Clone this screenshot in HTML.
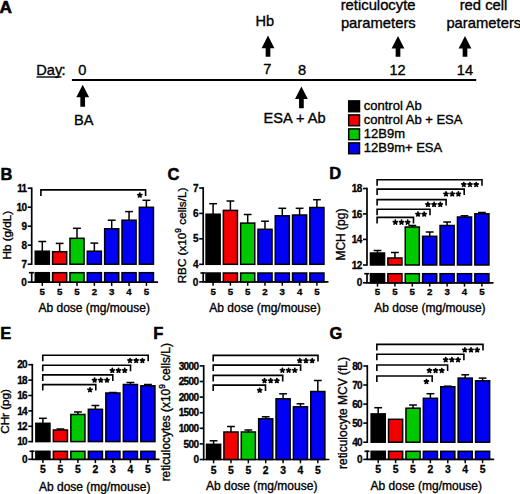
<!DOCTYPE html>
<html><head><meta charset="utf-8"><style>
html,body{margin:0;padding:0;background:#fff;}
body{width:520px;height:494px;overflow:hidden;}
svg{display:block;font-family:"Liberation Sans", sans-serif;}
text{stroke:#000;stroke-width:0.35px;}
text[font-weight="bold"]{stroke-width:0.3px;}
</style></head><body>
<svg width="520" height="494" viewBox="0 0 520 494" font-family='"Liberation Sans", sans-serif' fill="#000">
<rect width="520" height="494" fill="#fff"/>
<text x="-0.5" y="12.5" font-size="17.2" font-weight="bold" text-anchor="start" style="stroke-width:0.6px">A</text>
<text x="36.3" y="74.7" font-size="14.6" font-weight="normal" text-anchor="start">Day</text>
<line x1="36.5" y1="77" x2="61.4" y2="77" stroke="#000" stroke-width="1.4" stroke-linecap="butt"/>
<text x="61.4" y="74.7" font-size="14.6" font-weight="normal" text-anchor="start">:</text>
<text x="82.2" y="74.7" font-size="14.6" font-weight="normal" text-anchor="middle">0</text>
<line x1="71.9" y1="80.1" x2="476.2" y2="80.1" stroke="#000" stroke-width="2" stroke-linecap="butt"/>
<polygon points="82.7,84.7 89.1,97.3 85.05,97.3 85.05,106.7 80.35,106.7 80.35,97.3 76.3,97.3" fill="#000"/>
<text x="83.8" y="124.8" font-size="14.6" font-weight="normal" text-anchor="middle">BA</text>
<text x="264.9" y="25.7" font-size="14.6" font-weight="normal" text-anchor="middle">Hb</text>
<polygon points="268,35.6 274.4,48.2 270.35,48.2 270.35,56.8 265.65,56.8 265.65,48.2 261.6,48.2" fill="#000"/>
<text x="267.2" y="74.4" font-size="14.6" font-weight="normal" text-anchor="middle">7</text>
<text x="302" y="74.5" font-size="14.6" font-weight="normal" text-anchor="middle">8</text>
<text x="397.6" y="74.5" font-size="14.6" font-weight="normal" text-anchor="middle">12</text>
<text x="464.9" y="74.6" font-size="14.6" font-weight="normal" text-anchor="middle">14</text>
<polygon points="301.4,86.4 307.8,99 303.75,99 303.75,108.2 299.05,108.2 299.05,99 295,99" fill="#000"/>
<text x="294.5" y="123" font-size="14.6" font-weight="normal" text-anchor="middle">ESA + Ab</text>
<text x="378.1" y="10.1" font-size="14.8" font-weight="normal" text-anchor="middle">reticulocyte</text>
<text x="378.3" y="27.6" font-size="14.8" font-weight="normal" text-anchor="middle">parameters</text>
<polygon points="398,35.9 404.4,48.5 400.35,48.5 400.35,56.7 395.65,56.7 395.65,48.5 391.6,48.5" fill="#000"/>
<text x="483.5" y="10.1" font-size="14.8" font-weight="normal" text-anchor="middle">red cell</text>
<text x="446.4" y="27.6" font-size="14.8" font-weight="normal" text-anchor="start">parameters</text>
<polygon points="465,36 471.4,48.6 467.35,48.6 467.35,56.7 462.65,56.7 462.65,48.6 458.6,48.6" fill="#000"/>
<rect x="348.7" y="100.9" width="10.8" height="10.8" fill="#000" stroke="#000" stroke-width="1.5"/>
<text x="363.8" y="109.8" font-size="13" font-weight="normal" text-anchor="start">control Ab</text>
<rect x="348.7" y="114.9" width="10.8" height="10.8" fill="#f20000" stroke="#000" stroke-width="1.5"/>
<text x="363.8" y="123.8" font-size="13" font-weight="normal" text-anchor="start">control Ab + ESA</text>
<rect x="348.7" y="128.9" width="10.8" height="10.8" fill="#00c800" stroke="#000" stroke-width="1.5"/>
<text x="363.8" y="137.8" font-size="13" font-weight="normal" text-anchor="start">12B9m</text>
<rect x="348.7" y="142.9" width="10.8" height="10.8" fill="#0000f5" stroke="#000" stroke-width="1.5"/>
<text x="363.8" y="151.8" font-size="13" font-weight="normal" text-anchor="start">12B9m+ ESA</text>
<line x1="31.7" y1="187.4" x2="31.7" y2="265" stroke="#000" stroke-width="1.7" stroke-linecap="butt"/>
<line x1="27.7" y1="188.2" x2="31.7" y2="188.2" stroke="#000" stroke-width="1.6" stroke-linecap="butt"/>
<text x="26.5" y="191.8" font-size="10" font-weight="bold" text-anchor="end" letter-spacing="-0.6">11</text>
<line x1="27.7" y1="207.2" x2="31.7" y2="207.2" stroke="#000" stroke-width="1.6" stroke-linecap="butt"/>
<text x="26.5" y="210.8" font-size="10" font-weight="bold" text-anchor="end" letter-spacing="-0.6">10</text>
<line x1="27.7" y1="226.2" x2="31.7" y2="226.2" stroke="#000" stroke-width="1.6" stroke-linecap="butt"/>
<text x="26.5" y="229.8" font-size="10" font-weight="bold" text-anchor="end" letter-spacing="-0.6">9</text>
<line x1="27.7" y1="245.2" x2="31.7" y2="245.2" stroke="#000" stroke-width="1.6" stroke-linecap="butt"/>
<text x="26.5" y="248.8" font-size="10" font-weight="bold" text-anchor="end" letter-spacing="-0.6">8</text>
<line x1="27.7" y1="264.2" x2="31.7" y2="264.2" stroke="#000" stroke-width="1.6" stroke-linecap="butt"/>
<text x="26.5" y="267.8" font-size="10" font-weight="bold" text-anchor="end" letter-spacing="-0.6">7</text>
<line x1="31.7" y1="271.9" x2="31.7" y2="282.1" stroke="#000" stroke-width="1.7" stroke-linecap="butt"/>
<line x1="28.9" y1="272.7" x2="33.9" y2="272.7" stroke="#000" stroke-width="1.6" stroke-linecap="butt"/>
<line x1="27.7" y1="282.1" x2="31.7" y2="282.1" stroke="#000" stroke-width="1.6" stroke-linecap="butt"/>
<text x="26.9" y="285.7" font-size="10" font-weight="bold" text-anchor="end">0</text>
<line x1="30.9" y1="282.1" x2="158" y2="282.1" stroke="#000" stroke-width="1.7" stroke-linecap="butt"/>
<line x1="42.3" y1="241.5" x2="42.3" y2="251.2" stroke="#000" stroke-width="1.5" stroke-linecap="butt"/>
<line x1="38.4" y1="241.5" x2="46.2" y2="241.5" stroke="#000" stroke-width="1.5" stroke-linecap="butt"/>
<rect x="35.25" y="251.2" width="14.1" height="13" fill="#000" stroke="#000" stroke-width="1.5"/>
<rect x="35.25" y="272.7" width="14.1" height="9.4" fill="#000" stroke="#000" stroke-width="1.5"/>
<line x1="42.3" y1="282.1" x2="42.3" y2="285.9" stroke="#000" stroke-width="1.5" stroke-linecap="butt"/>
<text x="42.3" y="294.7" font-size="9.7" font-weight="bold" text-anchor="middle">5</text>
<line x1="59.65" y1="243.4" x2="59.65" y2="251.7" stroke="#000" stroke-width="1.5" stroke-linecap="butt"/>
<line x1="55.75" y1="243.4" x2="63.55" y2="243.4" stroke="#000" stroke-width="1.5" stroke-linecap="butt"/>
<rect x="52.6" y="251.7" width="14.1" height="12.5" fill="#f20000" stroke="#000" stroke-width="1.5"/>
<rect x="52.6" y="272.7" width="14.1" height="9.4" fill="#f20000" stroke="#000" stroke-width="1.5"/>
<line x1="59.65" y1="282.1" x2="59.65" y2="285.9" stroke="#000" stroke-width="1.5" stroke-linecap="butt"/>
<text x="59.65" y="294.7" font-size="9.7" font-weight="bold" text-anchor="middle">5</text>
<line x1="77" y1="228.3" x2="77" y2="238.3" stroke="#000" stroke-width="1.5" stroke-linecap="butt"/>
<line x1="73.1" y1="228.3" x2="80.9" y2="228.3" stroke="#000" stroke-width="1.5" stroke-linecap="butt"/>
<rect x="69.95" y="238.3" width="14.1" height="25.9" fill="#00c800" stroke="#000" stroke-width="1.5"/>
<rect x="69.95" y="272.7" width="14.1" height="9.4" fill="#00c800" stroke="#000" stroke-width="1.5"/>
<line x1="77" y1="282.1" x2="77" y2="285.9" stroke="#000" stroke-width="1.5" stroke-linecap="butt"/>
<text x="77" y="294.7" font-size="9.7" font-weight="bold" text-anchor="middle">5</text>
<line x1="94.35" y1="243.1" x2="94.35" y2="251.2" stroke="#000" stroke-width="1.5" stroke-linecap="butt"/>
<line x1="90.45" y1="243.1" x2="98.25" y2="243.1" stroke="#000" stroke-width="1.5" stroke-linecap="butt"/>
<rect x="87.3" y="251.2" width="14.1" height="13" fill="#0000f5" stroke="#000" stroke-width="1.5"/>
<rect x="87.3" y="272.7" width="14.1" height="9.4" fill="#0000f5" stroke="#000" stroke-width="1.5"/>
<line x1="94.35" y1="282.1" x2="94.35" y2="285.9" stroke="#000" stroke-width="1.5" stroke-linecap="butt"/>
<text x="94.35" y="294.7" font-size="9.7" font-weight="bold" text-anchor="middle">2</text>
<line x1="111.7" y1="220.2" x2="111.7" y2="228.8" stroke="#000" stroke-width="1.5" stroke-linecap="butt"/>
<line x1="107.8" y1="220.2" x2="115.6" y2="220.2" stroke="#000" stroke-width="1.5" stroke-linecap="butt"/>
<rect x="104.65" y="228.8" width="14.1" height="35.4" fill="#0000f5" stroke="#000" stroke-width="1.5"/>
<rect x="104.65" y="272.7" width="14.1" height="9.4" fill="#0000f5" stroke="#000" stroke-width="1.5"/>
<line x1="111.7" y1="282.1" x2="111.7" y2="285.9" stroke="#000" stroke-width="1.5" stroke-linecap="butt"/>
<text x="111.7" y="294.7" font-size="9.7" font-weight="bold" text-anchor="middle">3</text>
<line x1="129.05" y1="211.6" x2="129.05" y2="220.2" stroke="#000" stroke-width="1.5" stroke-linecap="butt"/>
<line x1="125.15" y1="211.6" x2="132.95" y2="211.6" stroke="#000" stroke-width="1.5" stroke-linecap="butt"/>
<rect x="122" y="220.2" width="14.1" height="44" fill="#0000f5" stroke="#000" stroke-width="1.5"/>
<rect x="122" y="272.7" width="14.1" height="9.4" fill="#0000f5" stroke="#000" stroke-width="1.5"/>
<line x1="129.05" y1="282.1" x2="129.05" y2="285.9" stroke="#000" stroke-width="1.5" stroke-linecap="butt"/>
<text x="129.05" y="294.7" font-size="9.7" font-weight="bold" text-anchor="middle">4</text>
<line x1="146.4" y1="200.3" x2="146.4" y2="207.3" stroke="#000" stroke-width="1.5" stroke-linecap="butt"/>
<line x1="142.5" y1="200.3" x2="150.3" y2="200.3" stroke="#000" stroke-width="1.5" stroke-linecap="butt"/>
<rect x="139.35" y="207.3" width="14.1" height="56.9" fill="#0000f5" stroke="#000" stroke-width="1.5"/>
<rect x="139.35" y="272.7" width="14.1" height="9.4" fill="#0000f5" stroke="#000" stroke-width="1.5"/>
<line x1="146.4" y1="282.1" x2="146.4" y2="285.9" stroke="#000" stroke-width="1.5" stroke-linecap="butt"/>
<text x="146.4" y="294.7" font-size="9.7" font-weight="bold" text-anchor="middle">5</text>
<text x="94.2" y="311.5" font-size="12" font-weight="normal" text-anchor="middle">Ab dose (mg/mouse)</text>
<text transform="translate(11.2,235.2) rotate(-90)" font-size="11.7" text-anchor="middle">Hb (g/dL)</text>
<text x="0.5" y="179.5" font-size="16.5" font-weight="bold" text-anchor="start" style="stroke-width:0.5px">B</text>
<path d="M40.9 195.9V189.9H145.6V195.9" fill="none" stroke="#000" stroke-width="1.6"/>
<path d="M139.8 195.2L139.8 193.1M139.8 195.2L141.8 194.55M139.8 195.2L141.03 196.9M139.8 195.2L138.57 196.9M139.8 195.2L137.8 194.55" stroke="#000" stroke-width="1.75" stroke-linecap="round" fill="none"/>
<line x1="203.2" y1="187.2" x2="203.2" y2="265.1" stroke="#000" stroke-width="1.7" stroke-linecap="butt"/>
<line x1="199.2" y1="188" x2="203.2" y2="188" stroke="#000" stroke-width="1.6" stroke-linecap="butt"/>
<text x="198" y="191.6" font-size="10" font-weight="bold" text-anchor="end" letter-spacing="-0.6">7</text>
<line x1="199.2" y1="213.4" x2="203.2" y2="213.4" stroke="#000" stroke-width="1.6" stroke-linecap="butt"/>
<text x="198" y="217" font-size="10" font-weight="bold" text-anchor="end" letter-spacing="-0.6">6</text>
<line x1="199.2" y1="238.8" x2="203.2" y2="238.8" stroke="#000" stroke-width="1.6" stroke-linecap="butt"/>
<text x="198" y="242.4" font-size="10" font-weight="bold" text-anchor="end" letter-spacing="-0.6">5</text>
<line x1="199.2" y1="264.3" x2="203.2" y2="264.3" stroke="#000" stroke-width="1.6" stroke-linecap="butt"/>
<text x="198" y="267.9" font-size="10" font-weight="bold" text-anchor="end" letter-spacing="-0.6">4</text>
<line x1="203.2" y1="272.2" x2="203.2" y2="281.9" stroke="#000" stroke-width="1.7" stroke-linecap="butt"/>
<line x1="200.4" y1="273" x2="205.4" y2="273" stroke="#000" stroke-width="1.6" stroke-linecap="butt"/>
<line x1="199.2" y1="281.9" x2="203.2" y2="281.9" stroke="#000" stroke-width="1.6" stroke-linecap="butt"/>
<text x="198.4" y="285.5" font-size="10" font-weight="bold" text-anchor="end">0</text>
<line x1="202.4" y1="281.9" x2="328.5" y2="281.9" stroke="#000" stroke-width="1.7" stroke-linecap="butt"/>
<line x1="213.1" y1="203.7" x2="213.1" y2="214.2" stroke="#000" stroke-width="1.5" stroke-linecap="butt"/>
<line x1="209.2" y1="203.7" x2="217" y2="203.7" stroke="#000" stroke-width="1.5" stroke-linecap="butt"/>
<rect x="206.05" y="214.2" width="14.1" height="50.1" fill="#000" stroke="#000" stroke-width="1.5"/>
<rect x="206.05" y="273" width="14.1" height="8.9" fill="#000" stroke="#000" stroke-width="1.5"/>
<line x1="213.1" y1="281.9" x2="213.1" y2="285.7" stroke="#000" stroke-width="1.5" stroke-linecap="butt"/>
<text x="213.1" y="294.5" font-size="9.7" font-weight="bold" text-anchor="middle">5</text>
<line x1="230.4" y1="201" x2="230.4" y2="210.4" stroke="#000" stroke-width="1.5" stroke-linecap="butt"/>
<line x1="226.5" y1="201" x2="234.3" y2="201" stroke="#000" stroke-width="1.5" stroke-linecap="butt"/>
<rect x="223.35" y="210.4" width="14.1" height="53.9" fill="#f20000" stroke="#000" stroke-width="1.5"/>
<rect x="223.35" y="273" width="14.1" height="8.9" fill="#f20000" stroke="#000" stroke-width="1.5"/>
<line x1="230.4" y1="281.9" x2="230.4" y2="285.7" stroke="#000" stroke-width="1.5" stroke-linecap="butt"/>
<text x="230.4" y="294.5" font-size="9.7" font-weight="bold" text-anchor="middle">5</text>
<line x1="247.7" y1="214.5" x2="247.7" y2="223.1" stroke="#000" stroke-width="1.5" stroke-linecap="butt"/>
<line x1="243.8" y1="214.5" x2="251.6" y2="214.5" stroke="#000" stroke-width="1.5" stroke-linecap="butt"/>
<rect x="240.65" y="223.1" width="14.1" height="41.2" fill="#00c800" stroke="#000" stroke-width="1.5"/>
<rect x="240.65" y="273" width="14.1" height="8.9" fill="#00c800" stroke="#000" stroke-width="1.5"/>
<line x1="247.7" y1="281.9" x2="247.7" y2="285.7" stroke="#000" stroke-width="1.5" stroke-linecap="butt"/>
<text x="247.7" y="294.5" font-size="9.7" font-weight="bold" text-anchor="middle">5</text>
<line x1="265" y1="221.2" x2="265" y2="229.3" stroke="#000" stroke-width="1.5" stroke-linecap="butt"/>
<line x1="261.1" y1="221.2" x2="268.9" y2="221.2" stroke="#000" stroke-width="1.5" stroke-linecap="butt"/>
<rect x="257.95" y="229.3" width="14.1" height="35" fill="#0000f5" stroke="#000" stroke-width="1.5"/>
<rect x="257.95" y="273" width="14.1" height="8.9" fill="#0000f5" stroke="#000" stroke-width="1.5"/>
<line x1="265" y1="281.9" x2="265" y2="285.7" stroke="#000" stroke-width="1.5" stroke-linecap="butt"/>
<text x="265" y="294.5" font-size="9.7" font-weight="bold" text-anchor="middle">2</text>
<line x1="282.3" y1="208.3" x2="282.3" y2="215.8" stroke="#000" stroke-width="1.5" stroke-linecap="butt"/>
<line x1="278.4" y1="208.3" x2="286.2" y2="208.3" stroke="#000" stroke-width="1.5" stroke-linecap="butt"/>
<rect x="275.25" y="215.8" width="14.1" height="48.5" fill="#0000f5" stroke="#000" stroke-width="1.5"/>
<rect x="275.25" y="273" width="14.1" height="8.9" fill="#0000f5" stroke="#000" stroke-width="1.5"/>
<line x1="282.3" y1="281.9" x2="282.3" y2="285.7" stroke="#000" stroke-width="1.5" stroke-linecap="butt"/>
<text x="282.3" y="294.5" font-size="9.7" font-weight="bold" text-anchor="middle">3</text>
<line x1="299.6" y1="208.3" x2="299.6" y2="215" stroke="#000" stroke-width="1.5" stroke-linecap="butt"/>
<line x1="295.7" y1="208.3" x2="303.5" y2="208.3" stroke="#000" stroke-width="1.5" stroke-linecap="butt"/>
<rect x="292.55" y="215" width="14.1" height="49.3" fill="#0000f5" stroke="#000" stroke-width="1.5"/>
<rect x="292.55" y="273" width="14.1" height="8.9" fill="#0000f5" stroke="#000" stroke-width="1.5"/>
<line x1="299.6" y1="281.9" x2="299.6" y2="285.7" stroke="#000" stroke-width="1.5" stroke-linecap="butt"/>
<text x="299.6" y="294.5" font-size="9.7" font-weight="bold" text-anchor="middle">4</text>
<line x1="316.9" y1="199.7" x2="316.9" y2="207.5" stroke="#000" stroke-width="1.5" stroke-linecap="butt"/>
<line x1="313" y1="199.7" x2="320.8" y2="199.7" stroke="#000" stroke-width="1.5" stroke-linecap="butt"/>
<rect x="309.85" y="207.5" width="14.1" height="56.8" fill="#0000f5" stroke="#000" stroke-width="1.5"/>
<rect x="309.85" y="273" width="14.1" height="8.9" fill="#0000f5" stroke="#000" stroke-width="1.5"/>
<line x1="316.9" y1="281.9" x2="316.9" y2="285.7" stroke="#000" stroke-width="1.5" stroke-linecap="butt"/>
<text x="316.9" y="294.5" font-size="9.7" font-weight="bold" text-anchor="middle">5</text>
<text x="265" y="311.7" font-size="12" font-weight="normal" text-anchor="middle">Ab dose (mg/mouse)</text>
<text transform="translate(185.9,235.5) rotate(-90)" font-size="11.7" text-anchor="middle">RBC (x10<tspan baseline-shift="4.6" font-size="8.6">9</tspan> cells/L)</text>
<text x="167.5" y="180" font-size="16.5" font-weight="bold" text-anchor="start" style="stroke-width:0.5px">C</text>
<line x1="367" y1="187.7" x2="367" y2="265.8" stroke="#000" stroke-width="1.7" stroke-linecap="butt"/>
<line x1="363" y1="188.5" x2="367" y2="188.5" stroke="#000" stroke-width="1.6" stroke-linecap="butt"/>
<text x="361.8" y="192.1" font-size="10" font-weight="bold" text-anchor="end" letter-spacing="-0.6">18</text>
<line x1="363" y1="213.9" x2="367" y2="213.9" stroke="#000" stroke-width="1.6" stroke-linecap="butt"/>
<text x="361.8" y="217.5" font-size="10" font-weight="bold" text-anchor="end" letter-spacing="-0.6">16</text>
<line x1="363" y1="239.4" x2="367" y2="239.4" stroke="#000" stroke-width="1.6" stroke-linecap="butt"/>
<text x="361.8" y="243" font-size="10" font-weight="bold" text-anchor="end" letter-spacing="-0.6">14</text>
<line x1="363" y1="265" x2="367" y2="265" stroke="#000" stroke-width="1.6" stroke-linecap="butt"/>
<text x="361.8" y="268.6" font-size="10" font-weight="bold" text-anchor="end" letter-spacing="-0.6">12</text>
<line x1="367" y1="272.9" x2="367" y2="282.8" stroke="#000" stroke-width="1.7" stroke-linecap="butt"/>
<line x1="364.2" y1="273.7" x2="369.2" y2="273.7" stroke="#000" stroke-width="1.6" stroke-linecap="butt"/>
<line x1="363" y1="282.8" x2="367" y2="282.8" stroke="#000" stroke-width="1.6" stroke-linecap="butt"/>
<text x="362.2" y="286.4" font-size="10" font-weight="bold" text-anchor="end">0</text>
<line x1="366.2" y1="282.8" x2="493.5" y2="282.8" stroke="#000" stroke-width="1.7" stroke-linecap="butt"/>
<line x1="377.5" y1="250.5" x2="377.5" y2="253" stroke="#000" stroke-width="1.5" stroke-linecap="butt"/>
<line x1="373.6" y1="250.5" x2="381.4" y2="250.5" stroke="#000" stroke-width="1.5" stroke-linecap="butt"/>
<rect x="370.45" y="253" width="14.1" height="12" fill="#000" stroke="#000" stroke-width="1.5"/>
<rect x="370.45" y="273.7" width="14.1" height="9.1" fill="#000" stroke="#000" stroke-width="1.5"/>
<line x1="377.5" y1="282.8" x2="377.5" y2="286.6" stroke="#000" stroke-width="1.5" stroke-linecap="butt"/>
<text x="377.5" y="295.4" font-size="9.7" font-weight="bold" text-anchor="middle">5</text>
<line x1="394.9" y1="252.5" x2="394.9" y2="258" stroke="#000" stroke-width="1.5" stroke-linecap="butt"/>
<line x1="391" y1="252.5" x2="398.8" y2="252.5" stroke="#000" stroke-width="1.5" stroke-linecap="butt"/>
<rect x="387.85" y="258" width="14.1" height="7" fill="#f20000" stroke="#000" stroke-width="1.5"/>
<rect x="387.85" y="273.7" width="14.1" height="9.1" fill="#f20000" stroke="#000" stroke-width="1.5"/>
<line x1="394.9" y1="282.8" x2="394.9" y2="286.6" stroke="#000" stroke-width="1.5" stroke-linecap="butt"/>
<text x="394.9" y="295.4" font-size="9.7" font-weight="bold" text-anchor="middle">5</text>
<line x1="412.3" y1="225.5" x2="412.3" y2="227" stroke="#000" stroke-width="1.5" stroke-linecap="butt"/>
<line x1="408.4" y1="225.5" x2="416.2" y2="225.5" stroke="#000" stroke-width="1.5" stroke-linecap="butt"/>
<rect x="405.25" y="227" width="14.1" height="38" fill="#00c800" stroke="#000" stroke-width="1.5"/>
<rect x="405.25" y="273.7" width="14.1" height="9.1" fill="#00c800" stroke="#000" stroke-width="1.5"/>
<line x1="412.3" y1="282.8" x2="412.3" y2="286.6" stroke="#000" stroke-width="1.5" stroke-linecap="butt"/>
<text x="412.3" y="295.4" font-size="9.7" font-weight="bold" text-anchor="middle">5</text>
<line x1="429.7" y1="232" x2="429.7" y2="236.3" stroke="#000" stroke-width="1.5" stroke-linecap="butt"/>
<line x1="425.8" y1="232" x2="433.6" y2="232" stroke="#000" stroke-width="1.5" stroke-linecap="butt"/>
<rect x="422.65" y="236.3" width="14.1" height="28.7" fill="#0000f5" stroke="#000" stroke-width="1.5"/>
<rect x="422.65" y="273.7" width="14.1" height="9.1" fill="#0000f5" stroke="#000" stroke-width="1.5"/>
<line x1="429.7" y1="282.8" x2="429.7" y2="286.6" stroke="#000" stroke-width="1.5" stroke-linecap="butt"/>
<text x="429.7" y="295.4" font-size="9.7" font-weight="bold" text-anchor="middle">2</text>
<line x1="447.1" y1="222" x2="447.1" y2="225.5" stroke="#000" stroke-width="1.5" stroke-linecap="butt"/>
<line x1="443.2" y1="222" x2="451" y2="222" stroke="#000" stroke-width="1.5" stroke-linecap="butt"/>
<rect x="440.05" y="225.5" width="14.1" height="39.5" fill="#0000f5" stroke="#000" stroke-width="1.5"/>
<rect x="440.05" y="273.7" width="14.1" height="9.1" fill="#0000f5" stroke="#000" stroke-width="1.5"/>
<line x1="447.1" y1="282.8" x2="447.1" y2="286.6" stroke="#000" stroke-width="1.5" stroke-linecap="butt"/>
<text x="447.1" y="295.4" font-size="9.7" font-weight="bold" text-anchor="middle">3</text>
<line x1="464.5" y1="215.8" x2="464.5" y2="217" stroke="#000" stroke-width="1.5" stroke-linecap="butt"/>
<line x1="460.6" y1="215.8" x2="468.4" y2="215.8" stroke="#000" stroke-width="1.5" stroke-linecap="butt"/>
<rect x="457.45" y="217" width="14.1" height="48" fill="#0000f5" stroke="#000" stroke-width="1.5"/>
<rect x="457.45" y="273.7" width="14.1" height="9.1" fill="#0000f5" stroke="#000" stroke-width="1.5"/>
<line x1="464.5" y1="282.8" x2="464.5" y2="286.6" stroke="#000" stroke-width="1.5" stroke-linecap="butt"/>
<text x="464.5" y="295.4" font-size="9.7" font-weight="bold" text-anchor="middle">4</text>
<line x1="481.9" y1="212.5" x2="481.9" y2="213.8" stroke="#000" stroke-width="1.5" stroke-linecap="butt"/>
<line x1="478" y1="212.5" x2="485.8" y2="212.5" stroke="#000" stroke-width="1.5" stroke-linecap="butt"/>
<rect x="474.85" y="213.8" width="14.1" height="51.2" fill="#0000f5" stroke="#000" stroke-width="1.5"/>
<rect x="474.85" y="273.7" width="14.1" height="9.1" fill="#0000f5" stroke="#000" stroke-width="1.5"/>
<line x1="481.9" y1="282.8" x2="481.9" y2="286.6" stroke="#000" stroke-width="1.5" stroke-linecap="butt"/>
<text x="481.9" y="295.4" font-size="9.7" font-weight="bold" text-anchor="middle">5</text>
<text x="429.9" y="312.1" font-size="12" font-weight="normal" text-anchor="middle">Ab dose (mg/mouse)</text>
<text transform="translate(345.3,234.6) rotate(-90)" font-size="12" text-anchor="middle">MCH (pg)</text>
<text x="329.3" y="179.4" font-size="16.5" font-weight="bold" text-anchor="start" style="stroke-width:0.5px">D</text>
<path d="M377.1 185.7V179.7H482V185.7" fill="none" stroke="#000" stroke-width="1.6"/>
<path d="M463.8 184.6L463.8 182.5M463.8 184.6L465.8 183.95M463.8 184.6L465.03 186.3M463.8 184.6L462.57 186.3M463.8 184.6L461.8 183.95" stroke="#000" stroke-width="1.75" stroke-linecap="round" fill="none"/>
<path d="M470 184.6L470 182.5M470 184.6L472 183.95M470 184.6L471.23 186.3M470 184.6L468.77 186.3M470 184.6L468 183.95" stroke="#000" stroke-width="1.75" stroke-linecap="round" fill="none"/>
<path d="M476.2 184.6L476.2 182.5M476.2 184.6L478.2 183.95M476.2 184.6L477.43 186.3M476.2 184.6L474.97 186.3M476.2 184.6L474.2 183.95" stroke="#000" stroke-width="1.75" stroke-linecap="round" fill="none"/>
<path d="M377.1 195.1V189.1H464.2V195.1" fill="none" stroke="#000" stroke-width="1.6"/>
<path d="M446 194L446 191.9M446 194L448 193.35M446 194L447.23 195.7M446 194L444.77 195.7M446 194L444 193.35" stroke="#000" stroke-width="1.75" stroke-linecap="round" fill="none"/>
<path d="M452.2 194L452.2 191.9M452.2 194L454.2 193.35M452.2 194L453.43 195.7M452.2 194L450.97 195.7M452.2 194L450.2 193.35" stroke="#000" stroke-width="1.75" stroke-linecap="round" fill="none"/>
<path d="M458.4 194L458.4 191.9M458.4 194L460.4 193.35M458.4 194L459.63 195.7M458.4 194L457.17 195.7M458.4 194L456.4 193.35" stroke="#000" stroke-width="1.75" stroke-linecap="round" fill="none"/>
<path d="M377.1 205.6V199.6H446.1V205.6" fill="none" stroke="#000" stroke-width="1.6"/>
<path d="M427.9 204.5L427.9 202.4M427.9 204.5L429.9 203.85M427.9 204.5L429.13 206.2M427.9 204.5L426.67 206.2M427.9 204.5L425.9 203.85" stroke="#000" stroke-width="1.75" stroke-linecap="round" fill="none"/>
<path d="M434.1 204.5L434.1 202.4M434.1 204.5L436.1 203.85M434.1 204.5L435.33 206.2M434.1 204.5L432.87 206.2M434.1 204.5L432.1 203.85" stroke="#000" stroke-width="1.75" stroke-linecap="round" fill="none"/>
<path d="M440.3 204.5L440.3 202.4M440.3 204.5L442.3 203.85M440.3 204.5L441.53 206.2M440.3 204.5L439.07 206.2M440.3 204.5L438.3 203.85" stroke="#000" stroke-width="1.75" stroke-linecap="round" fill="none"/>
<path d="M377.1 215.3V209.3H430V215.3" fill="none" stroke="#000" stroke-width="1.6"/>
<path d="M418 214.2L418 212.1M418 214.2L420 213.55M418 214.2L419.23 215.9M418 214.2L416.77 215.9M418 214.2L416 213.55" stroke="#000" stroke-width="1.75" stroke-linecap="round" fill="none"/>
<path d="M424.2 214.2L424.2 212.1M424.2 214.2L426.2 213.55M424.2 214.2L425.43 215.9M424.2 214.2L422.97 215.9M424.2 214.2L422.2 213.55" stroke="#000" stroke-width="1.75" stroke-linecap="round" fill="none"/>
<path d="M377.1 223.4V217.4H413.5V223.4" fill="none" stroke="#000" stroke-width="1.6"/>
<path d="M395.3 222.3L395.3 220.2M395.3 222.3L397.3 221.65M395.3 222.3L396.53 224M395.3 222.3L394.07 224M395.3 222.3L393.3 221.65" stroke="#000" stroke-width="1.75" stroke-linecap="round" fill="none"/>
<path d="M401.5 222.3L401.5 220.2M401.5 222.3L403.5 221.65M401.5 222.3L402.73 224M401.5 222.3L400.27 224M401.5 222.3L399.5 221.65" stroke="#000" stroke-width="1.75" stroke-linecap="round" fill="none"/>
<path d="M407.7 222.3L407.7 220.2M407.7 222.3L409.7 221.65M407.7 222.3L408.93 224M407.7 222.3L406.47 224M407.7 222.3L405.7 221.65" stroke="#000" stroke-width="1.75" stroke-linecap="round" fill="none"/>
<line x1="32.3" y1="363.9" x2="32.3" y2="442.4" stroke="#000" stroke-width="1.7" stroke-linecap="butt"/>
<line x1="28.3" y1="364.7" x2="32.3" y2="364.7" stroke="#000" stroke-width="1.6" stroke-linecap="butt"/>
<text x="27.1" y="368.3" font-size="10" font-weight="bold" text-anchor="end" letter-spacing="-0.6">20</text>
<line x1="28.3" y1="380.1" x2="32.3" y2="380.1" stroke="#000" stroke-width="1.6" stroke-linecap="butt"/>
<text x="27.1" y="383.7" font-size="10" font-weight="bold" text-anchor="end" letter-spacing="-0.6">18</text>
<line x1="28.3" y1="395.5" x2="32.3" y2="395.5" stroke="#000" stroke-width="1.6" stroke-linecap="butt"/>
<text x="27.1" y="399.1" font-size="10" font-weight="bold" text-anchor="end" letter-spacing="-0.6">16</text>
<line x1="28.3" y1="410.9" x2="32.3" y2="410.9" stroke="#000" stroke-width="1.6" stroke-linecap="butt"/>
<text x="27.1" y="414.5" font-size="10" font-weight="bold" text-anchor="end" letter-spacing="-0.6">14</text>
<line x1="28.3" y1="426.3" x2="32.3" y2="426.3" stroke="#000" stroke-width="1.6" stroke-linecap="butt"/>
<text x="27.1" y="429.9" font-size="10" font-weight="bold" text-anchor="end" letter-spacing="-0.6">12</text>
<line x1="28.3" y1="441.6" x2="32.3" y2="441.6" stroke="#000" stroke-width="1.6" stroke-linecap="butt"/>
<text x="27.1" y="445.2" font-size="10" font-weight="bold" text-anchor="end" letter-spacing="-0.6">10</text>
<line x1="32.3" y1="450.5" x2="32.3" y2="459.3" stroke="#000" stroke-width="1.7" stroke-linecap="butt"/>
<line x1="29.5" y1="451.3" x2="34.5" y2="451.3" stroke="#000" stroke-width="1.6" stroke-linecap="butt"/>
<line x1="28.3" y1="459.3" x2="32.3" y2="459.3" stroke="#000" stroke-width="1.6" stroke-linecap="butt"/>
<text x="27.5" y="462.9" font-size="10" font-weight="bold" text-anchor="end">0</text>
<line x1="31.5" y1="459.3" x2="159.5" y2="459.3" stroke="#000" stroke-width="1.7" stroke-linecap="butt"/>
<line x1="42.9" y1="418.3" x2="42.9" y2="423.3" stroke="#000" stroke-width="1.5" stroke-linecap="butt"/>
<line x1="39" y1="418.3" x2="46.8" y2="418.3" stroke="#000" stroke-width="1.5" stroke-linecap="butt"/>
<rect x="35.85" y="423.3" width="14.1" height="18.3" fill="#000" stroke="#000" stroke-width="1.5"/>
<rect x="35.85" y="451.3" width="14.1" height="8" fill="#000" stroke="#000" stroke-width="1.5"/>
<line x1="42.9" y1="459.3" x2="42.9" y2="463.1" stroke="#000" stroke-width="1.5" stroke-linecap="butt"/>
<text x="42.9" y="473.3" font-size="10.4" font-weight="bold" text-anchor="middle">5</text>
<line x1="60.4" y1="429" x2="60.4" y2="430" stroke="#000" stroke-width="1.5" stroke-linecap="butt"/>
<line x1="56.5" y1="429" x2="64.3" y2="429" stroke="#000" stroke-width="1.5" stroke-linecap="butt"/>
<rect x="53.35" y="430" width="14.1" height="11.6" fill="#f20000" stroke="#000" stroke-width="1.5"/>
<rect x="53.35" y="451.3" width="14.1" height="8" fill="#f20000" stroke="#000" stroke-width="1.5"/>
<line x1="60.4" y1="459.3" x2="60.4" y2="463.1" stroke="#000" stroke-width="1.5" stroke-linecap="butt"/>
<text x="60.4" y="473.3" font-size="10.4" font-weight="bold" text-anchor="middle">5</text>
<line x1="77.9" y1="412" x2="77.9" y2="414.5" stroke="#000" stroke-width="1.5" stroke-linecap="butt"/>
<line x1="74" y1="412" x2="81.8" y2="412" stroke="#000" stroke-width="1.5" stroke-linecap="butt"/>
<rect x="70.85" y="414.5" width="14.1" height="27.1" fill="#00c800" stroke="#000" stroke-width="1.5"/>
<rect x="70.85" y="451.3" width="14.1" height="8" fill="#00c800" stroke="#000" stroke-width="1.5"/>
<line x1="77.9" y1="459.3" x2="77.9" y2="463.1" stroke="#000" stroke-width="1.5" stroke-linecap="butt"/>
<text x="77.9" y="473.3" font-size="10.4" font-weight="bold" text-anchor="middle">5</text>
<line x1="95.4" y1="405.5" x2="95.4" y2="409.3" stroke="#000" stroke-width="1.5" stroke-linecap="butt"/>
<line x1="91.5" y1="405.5" x2="99.3" y2="405.5" stroke="#000" stroke-width="1.5" stroke-linecap="butt"/>
<rect x="88.35" y="409.3" width="14.1" height="32.3" fill="#0000f5" stroke="#000" stroke-width="1.5"/>
<rect x="88.35" y="451.3" width="14.1" height="8" fill="#0000f5" stroke="#000" stroke-width="1.5"/>
<line x1="95.4" y1="459.3" x2="95.4" y2="463.1" stroke="#000" stroke-width="1.5" stroke-linecap="butt"/>
<text x="95.4" y="473.3" font-size="10.4" font-weight="bold" text-anchor="middle">2</text>
<line x1="112.9" y1="392.5" x2="112.9" y2="393" stroke="#000" stroke-width="1.5" stroke-linecap="butt"/>
<line x1="109" y1="392.5" x2="116.8" y2="392.5" stroke="#000" stroke-width="1.5" stroke-linecap="butt"/>
<rect x="105.85" y="393" width="14.1" height="48.6" fill="#0000f5" stroke="#000" stroke-width="1.5"/>
<rect x="105.85" y="451.3" width="14.1" height="8" fill="#0000f5" stroke="#000" stroke-width="1.5"/>
<line x1="112.9" y1="459.3" x2="112.9" y2="463.1" stroke="#000" stroke-width="1.5" stroke-linecap="butt"/>
<text x="112.9" y="473.3" font-size="10.4" font-weight="bold" text-anchor="middle">3</text>
<line x1="130.4" y1="382.5" x2="130.4" y2="384.5" stroke="#000" stroke-width="1.5" stroke-linecap="butt"/>
<line x1="126.5" y1="382.5" x2="134.3" y2="382.5" stroke="#000" stroke-width="1.5" stroke-linecap="butt"/>
<rect x="123.35" y="384.5" width="14.1" height="57.1" fill="#0000f5" stroke="#000" stroke-width="1.5"/>
<rect x="123.35" y="451.3" width="14.1" height="8" fill="#0000f5" stroke="#000" stroke-width="1.5"/>
<line x1="130.4" y1="459.3" x2="130.4" y2="463.1" stroke="#000" stroke-width="1.5" stroke-linecap="butt"/>
<text x="130.4" y="473.3" font-size="10.4" font-weight="bold" text-anchor="middle">4</text>
<line x1="147.9" y1="384.5" x2="147.9" y2="385.8" stroke="#000" stroke-width="1.5" stroke-linecap="butt"/>
<line x1="144" y1="384.5" x2="151.8" y2="384.5" stroke="#000" stroke-width="1.5" stroke-linecap="butt"/>
<rect x="140.85" y="385.8" width="14.1" height="55.8" fill="#0000f5" stroke="#000" stroke-width="1.5"/>
<rect x="140.85" y="451.3" width="14.1" height="8" fill="#0000f5" stroke="#000" stroke-width="1.5"/>
<line x1="147.9" y1="459.3" x2="147.9" y2="463.1" stroke="#000" stroke-width="1.5" stroke-linecap="butt"/>
<text x="147.9" y="473.3" font-size="10.4" font-weight="bold" text-anchor="middle">5</text>
<text x="94.7" y="490.6" font-size="12" font-weight="normal" text-anchor="middle">Ab dose (mg/mouse)</text>
<text transform="translate(9.3,411.4) rotate(-90)" font-size="11.7" text-anchor="middle">CHr (pg)</text>
<text x="0.3" y="339.2" font-size="16.5" font-weight="bold" text-anchor="start" style="stroke-width:0.5px">E</text>
<path d="M42.75 361.3V355.3H148.2V361.3" fill="none" stroke="#000" stroke-width="1.6"/>
<path d="M130 360.6L130 358.5M130 360.6L132 359.95M130 360.6L131.23 362.3M130 360.6L128.77 362.3M130 360.6L128 359.95" stroke="#000" stroke-width="1.75" stroke-linecap="round" fill="none"/>
<path d="M136.2 360.6L136.2 358.5M136.2 360.6L138.2 359.95M136.2 360.6L137.43 362.3M136.2 360.6L134.97 362.3M136.2 360.6L134.2 359.95" stroke="#000" stroke-width="1.75" stroke-linecap="round" fill="none"/>
<path d="M142.4 360.6L142.4 358.5M142.4 360.6L144.4 359.95M142.4 360.6L143.63 362.3M142.4 360.6L141.17 362.3M142.4 360.6L140.4 359.95" stroke="#000" stroke-width="1.75" stroke-linecap="round" fill="none"/>
<path d="M42.75 371.2V365.2H130.5V371.2" fill="none" stroke="#000" stroke-width="1.6"/>
<path d="M112.3 370.5L112.3 368.4M112.3 370.5L114.3 369.85M112.3 370.5L113.53 372.2M112.3 370.5L111.07 372.2M112.3 370.5L110.3 369.85" stroke="#000" stroke-width="1.75" stroke-linecap="round" fill="none"/>
<path d="M118.5 370.5L118.5 368.4M118.5 370.5L120.5 369.85M118.5 370.5L119.73 372.2M118.5 370.5L117.27 372.2M118.5 370.5L116.5 369.85" stroke="#000" stroke-width="1.75" stroke-linecap="round" fill="none"/>
<path d="M124.7 370.5L124.7 368.4M124.7 370.5L126.7 369.85M124.7 370.5L125.93 372.2M124.7 370.5L123.47 372.2M124.7 370.5L122.7 369.85" stroke="#000" stroke-width="1.75" stroke-linecap="round" fill="none"/>
<path d="M42.75 380.9V374.9H112.8V380.9" fill="none" stroke="#000" stroke-width="1.6"/>
<path d="M94.6 380.2L94.6 378.1M94.6 380.2L96.6 379.55M94.6 380.2L95.83 381.9M94.6 380.2L93.37 381.9M94.6 380.2L92.6 379.55" stroke="#000" stroke-width="1.75" stroke-linecap="round" fill="none"/>
<path d="M100.8 380.2L100.8 378.1M100.8 380.2L102.8 379.55M100.8 380.2L102.03 381.9M100.8 380.2L99.57 381.9M100.8 380.2L98.8 379.55" stroke="#000" stroke-width="1.75" stroke-linecap="round" fill="none"/>
<path d="M107 380.2L107 378.1M107 380.2L109 379.55M107 380.2L108.23 381.9M107 380.2L105.77 381.9M107 380.2L105 379.55" stroke="#000" stroke-width="1.75" stroke-linecap="round" fill="none"/>
<path d="M42.75 390.6V384.6H95.8V390.6" fill="none" stroke="#000" stroke-width="1.6"/>
<path d="M90 389.9L90 387.8M90 389.9L92 389.25M90 389.9L91.23 391.6M90 389.9L88.77 391.6M90 389.9L88 389.25" stroke="#000" stroke-width="1.75" stroke-linecap="round" fill="none"/>
<line x1="203.7" y1="365.1" x2="203.7" y2="460.3" stroke="#000" stroke-width="1.7" stroke-linecap="butt"/>
<line x1="199.7" y1="365.9" x2="203.7" y2="365.9" stroke="#000" stroke-width="1.6" stroke-linecap="butt"/>
<text x="198.5" y="369.5" font-size="10" font-weight="bold" text-anchor="end" letter-spacing="-0.6">3000</text>
<line x1="199.7" y1="381.5" x2="203.7" y2="381.5" stroke="#000" stroke-width="1.6" stroke-linecap="butt"/>
<text x="198.5" y="385.1" font-size="10" font-weight="bold" text-anchor="end" letter-spacing="-0.6">2500</text>
<line x1="199.7" y1="397.1" x2="203.7" y2="397.1" stroke="#000" stroke-width="1.6" stroke-linecap="butt"/>
<text x="198.5" y="400.7" font-size="10" font-weight="bold" text-anchor="end" letter-spacing="-0.6">2000</text>
<line x1="199.7" y1="412.7" x2="203.7" y2="412.7" stroke="#000" stroke-width="1.6" stroke-linecap="butt"/>
<text x="198.5" y="416.3" font-size="10" font-weight="bold" text-anchor="end" letter-spacing="-0.6">1500</text>
<line x1="199.7" y1="428.3" x2="203.7" y2="428.3" stroke="#000" stroke-width="1.6" stroke-linecap="butt"/>
<text x="198.5" y="431.9" font-size="10" font-weight="bold" text-anchor="end" letter-spacing="-0.6">1000</text>
<line x1="199.7" y1="443.9" x2="203.7" y2="443.9" stroke="#000" stroke-width="1.6" stroke-linecap="butt"/>
<text x="198.5" y="447.5" font-size="10" font-weight="bold" text-anchor="end" letter-spacing="-0.6">500</text>
<line x1="199.7" y1="459.5" x2="203.7" y2="459.5" stroke="#000" stroke-width="1.6" stroke-linecap="butt"/>
<text x="198.5" y="463.1" font-size="10" font-weight="bold" text-anchor="end" letter-spacing="-0.6">0</text>
<line x1="202.9" y1="459.5" x2="329.42" y2="459.5" stroke="#000" stroke-width="1.7" stroke-linecap="butt"/>
<line x1="213.6" y1="440.8" x2="213.6" y2="444.3" stroke="#000" stroke-width="1.5" stroke-linecap="butt"/>
<line x1="209.7" y1="440.8" x2="217.5" y2="440.8" stroke="#000" stroke-width="1.5" stroke-linecap="butt"/>
<rect x="206.55" y="444.3" width="14.1" height="15.2" fill="#000" stroke="#000" stroke-width="1.5"/>
<line x1="213.6" y1="459.5" x2="213.6" y2="463.3" stroke="#000" stroke-width="1.5" stroke-linecap="butt"/>
<text x="213.6" y="473.5" font-size="10.4" font-weight="bold" text-anchor="middle">5</text>
<line x1="230.97" y1="426.5" x2="230.97" y2="432" stroke="#000" stroke-width="1.5" stroke-linecap="butt"/>
<line x1="227.07" y1="426.5" x2="234.87" y2="426.5" stroke="#000" stroke-width="1.5" stroke-linecap="butt"/>
<rect x="223.92" y="432" width="14.1" height="27.5" fill="#f20000" stroke="#000" stroke-width="1.5"/>
<line x1="230.97" y1="459.5" x2="230.97" y2="463.3" stroke="#000" stroke-width="1.5" stroke-linecap="butt"/>
<text x="230.97" y="473.5" font-size="10.4" font-weight="bold" text-anchor="middle">5</text>
<line x1="248.34" y1="430" x2="248.34" y2="432" stroke="#000" stroke-width="1.5" stroke-linecap="butt"/>
<line x1="244.44" y1="430" x2="252.24" y2="430" stroke="#000" stroke-width="1.5" stroke-linecap="butt"/>
<rect x="241.29" y="432" width="14.1" height="27.5" fill="#00c800" stroke="#000" stroke-width="1.5"/>
<line x1="248.34" y1="459.5" x2="248.34" y2="463.3" stroke="#000" stroke-width="1.5" stroke-linecap="butt"/>
<text x="248.34" y="473.5" font-size="10.4" font-weight="bold" text-anchor="middle">5</text>
<line x1="265.71" y1="416.8" x2="265.71" y2="418.8" stroke="#000" stroke-width="1.5" stroke-linecap="butt"/>
<line x1="261.81" y1="416.8" x2="269.61" y2="416.8" stroke="#000" stroke-width="1.5" stroke-linecap="butt"/>
<rect x="258.66" y="418.8" width="14.1" height="40.7" fill="#0000f5" stroke="#000" stroke-width="1.5"/>
<line x1="265.71" y1="459.5" x2="265.71" y2="463.3" stroke="#000" stroke-width="1.5" stroke-linecap="butt"/>
<text x="265.71" y="473.5" font-size="10.4" font-weight="bold" text-anchor="middle">2</text>
<line x1="283.08" y1="393.8" x2="283.08" y2="398.8" stroke="#000" stroke-width="1.5" stroke-linecap="butt"/>
<line x1="279.18" y1="393.8" x2="286.98" y2="393.8" stroke="#000" stroke-width="1.5" stroke-linecap="butt"/>
<rect x="276.03" y="398.8" width="14.1" height="60.7" fill="#0000f5" stroke="#000" stroke-width="1.5"/>
<line x1="283.08" y1="459.5" x2="283.08" y2="463.3" stroke="#000" stroke-width="1.5" stroke-linecap="butt"/>
<text x="283.08" y="473.5" font-size="10.4" font-weight="bold" text-anchor="middle">3</text>
<line x1="300.45" y1="403.8" x2="300.45" y2="406.8" stroke="#000" stroke-width="1.5" stroke-linecap="butt"/>
<line x1="296.55" y1="403.8" x2="304.35" y2="403.8" stroke="#000" stroke-width="1.5" stroke-linecap="butt"/>
<rect x="293.4" y="406.8" width="14.1" height="52.7" fill="#0000f5" stroke="#000" stroke-width="1.5"/>
<line x1="300.45" y1="459.5" x2="300.45" y2="463.3" stroke="#000" stroke-width="1.5" stroke-linecap="butt"/>
<text x="300.45" y="473.5" font-size="10.4" font-weight="bold" text-anchor="middle">4</text>
<line x1="317.82" y1="380.5" x2="317.82" y2="391.5" stroke="#000" stroke-width="1.5" stroke-linecap="butt"/>
<line x1="313.92" y1="380.5" x2="321.72" y2="380.5" stroke="#000" stroke-width="1.5" stroke-linecap="butt"/>
<rect x="310.77" y="391.5" width="14.1" height="68" fill="#0000f5" stroke="#000" stroke-width="1.5"/>
<line x1="317.82" y1="459.5" x2="317.82" y2="463.3" stroke="#000" stroke-width="1.5" stroke-linecap="butt"/>
<text x="317.82" y="473.5" font-size="10.4" font-weight="bold" text-anchor="middle">5</text>
<text x="261.7" y="490.2" font-size="12" font-weight="normal" text-anchor="middle">Ab dose (mg/mouse)</text>
<text transform="translate(170.4,412.2) rotate(-90)" font-size="11.9" text-anchor="middle">reticulocytes (x10<tspan baseline-shift="4.6" font-size="8.6">9</tspan> cells/L)</text>
<text x="153.3" y="339.2" font-size="16.5" font-weight="bold" text-anchor="start" style="stroke-width:0.5px">F</text>
<path d="M213.2 361.4V355.4H318V361.4" fill="none" stroke="#000" stroke-width="1.6"/>
<path d="M299.8 360.7L299.8 358.6M299.8 360.7L301.8 360.05M299.8 360.7L301.03 362.4M299.8 360.7L298.57 362.4M299.8 360.7L297.8 360.05" stroke="#000" stroke-width="1.75" stroke-linecap="round" fill="none"/>
<path d="M306 360.7L306 358.6M306 360.7L308 360.05M306 360.7L307.23 362.4M306 360.7L304.77 362.4M306 360.7L304 360.05" stroke="#000" stroke-width="1.75" stroke-linecap="round" fill="none"/>
<path d="M312.2 360.7L312.2 358.6M312.2 360.7L314.2 360.05M312.2 360.7L313.43 362.4M312.2 360.7L310.97 362.4M312.2 360.7L310.2 360.05" stroke="#000" stroke-width="1.75" stroke-linecap="round" fill="none"/>
<path d="M213.2 371.1V365.1H300.6V371.1" fill="none" stroke="#000" stroke-width="1.6"/>
<path d="M282.4 370.4L282.4 368.3M282.4 370.4L284.4 369.75M282.4 370.4L283.63 372.1M282.4 370.4L281.17 372.1M282.4 370.4L280.4 369.75" stroke="#000" stroke-width="1.75" stroke-linecap="round" fill="none"/>
<path d="M288.6 370.4L288.6 368.3M288.6 370.4L290.6 369.75M288.6 370.4L289.83 372.1M288.6 370.4L287.37 372.1M288.6 370.4L286.6 369.75" stroke="#000" stroke-width="1.75" stroke-linecap="round" fill="none"/>
<path d="M294.8 370.4L294.8 368.3M294.8 370.4L296.8 369.75M294.8 370.4L296.03 372.1M294.8 370.4L293.57 372.1M294.8 370.4L292.8 369.75" stroke="#000" stroke-width="1.75" stroke-linecap="round" fill="none"/>
<path d="M213.2 381.4V375.4H282.7V381.4" fill="none" stroke="#000" stroke-width="1.6"/>
<path d="M264.5 380.7L264.5 378.6M264.5 380.7L266.5 380.05M264.5 380.7L265.73 382.4M264.5 380.7L263.27 382.4M264.5 380.7L262.5 380.05" stroke="#000" stroke-width="1.75" stroke-linecap="round" fill="none"/>
<path d="M270.7 380.7L270.7 378.6M270.7 380.7L272.7 380.05M270.7 380.7L271.93 382.4M270.7 380.7L269.47 382.4M270.7 380.7L268.7 380.05" stroke="#000" stroke-width="1.75" stroke-linecap="round" fill="none"/>
<path d="M276.9 380.7L276.9 378.6M276.9 380.7L278.9 380.05M276.9 380.7L278.13 382.4M276.9 380.7L275.67 382.4M276.9 380.7L274.9 380.05" stroke="#000" stroke-width="1.75" stroke-linecap="round" fill="none"/>
<path d="M213.2 391.1V385.1H265.5V391.1" fill="none" stroke="#000" stroke-width="1.6"/>
<path d="M259.7 390.4L259.7 388.3M259.7 390.4L261.7 389.75M259.7 390.4L260.93 392.1M259.7 390.4L258.47 392.1M259.7 390.4L257.7 389.75" stroke="#000" stroke-width="1.75" stroke-linecap="round" fill="none"/>
<line x1="367.3" y1="365.2" x2="367.3" y2="443" stroke="#000" stroke-width="1.7" stroke-linecap="butt"/>
<line x1="363.3" y1="366" x2="367.3" y2="366" stroke="#000" stroke-width="1.6" stroke-linecap="butt"/>
<text x="362.1" y="369.6" font-size="10" font-weight="bold" text-anchor="end" letter-spacing="-0.6">80</text>
<line x1="363.3" y1="385" x2="367.3" y2="385" stroke="#000" stroke-width="1.6" stroke-linecap="butt"/>
<text x="362.1" y="388.6" font-size="10" font-weight="bold" text-anchor="end" letter-spacing="-0.6">70</text>
<line x1="363.3" y1="404.1" x2="367.3" y2="404.1" stroke="#000" stroke-width="1.6" stroke-linecap="butt"/>
<text x="362.1" y="407.7" font-size="10" font-weight="bold" text-anchor="end" letter-spacing="-0.6">60</text>
<line x1="363.3" y1="423.1" x2="367.3" y2="423.1" stroke="#000" stroke-width="1.6" stroke-linecap="butt"/>
<text x="362.1" y="426.7" font-size="10" font-weight="bold" text-anchor="end" letter-spacing="-0.6">50</text>
<line x1="363.3" y1="442.2" x2="367.3" y2="442.2" stroke="#000" stroke-width="1.6" stroke-linecap="butt"/>
<text x="362.1" y="445.8" font-size="10" font-weight="bold" text-anchor="end" letter-spacing="-0.6">40</text>
<line x1="367.3" y1="450.5" x2="367.3" y2="459.4" stroke="#000" stroke-width="1.7" stroke-linecap="butt"/>
<line x1="364.5" y1="451.3" x2="369.5" y2="451.3" stroke="#000" stroke-width="1.6" stroke-linecap="butt"/>
<line x1="363.3" y1="459.4" x2="367.3" y2="459.4" stroke="#000" stroke-width="1.6" stroke-linecap="butt"/>
<text x="362.5" y="463" font-size="10" font-weight="bold" text-anchor="end">0</text>
<line x1="366.5" y1="459.4" x2="494.2" y2="459.4" stroke="#000" stroke-width="1.7" stroke-linecap="butt"/>
<line x1="378.2" y1="407.7" x2="378.2" y2="413.9" stroke="#000" stroke-width="1.5" stroke-linecap="butt"/>
<line x1="374.3" y1="407.7" x2="382.1" y2="407.7" stroke="#000" stroke-width="1.5" stroke-linecap="butt"/>
<rect x="371.15" y="413.9" width="14.1" height="28.3" fill="#000" stroke="#000" stroke-width="1.5"/>
<rect x="371.15" y="451.3" width="14.1" height="8.1" fill="#000" stroke="#000" stroke-width="1.5"/>
<line x1="378.2" y1="459.4" x2="378.2" y2="463.2" stroke="#000" stroke-width="1.5" stroke-linecap="butt"/>
<text x="378.2" y="473.4" font-size="10.4" font-weight="bold" text-anchor="middle">5</text>
<rect x="388.55" y="419.3" width="14.1" height="22.9" fill="#f20000" stroke="#000" stroke-width="1.5"/>
<rect x="388.55" y="451.3" width="14.1" height="8.1" fill="#f20000" stroke="#000" stroke-width="1.5"/>
<line x1="395.6" y1="459.4" x2="395.6" y2="463.2" stroke="#000" stroke-width="1.5" stroke-linecap="butt"/>
<text x="395.6" y="473.4" font-size="10.4" font-weight="bold" text-anchor="middle">5</text>
<line x1="413" y1="405" x2="413" y2="408.2" stroke="#000" stroke-width="1.5" stroke-linecap="butt"/>
<line x1="409.1" y1="405" x2="416.9" y2="405" stroke="#000" stroke-width="1.5" stroke-linecap="butt"/>
<rect x="405.95" y="408.2" width="14.1" height="34" fill="#00c800" stroke="#000" stroke-width="1.5"/>
<rect x="405.95" y="451.3" width="14.1" height="8.1" fill="#00c800" stroke="#000" stroke-width="1.5"/>
<line x1="413" y1="459.4" x2="413" y2="463.2" stroke="#000" stroke-width="1.5" stroke-linecap="butt"/>
<text x="413" y="473.4" font-size="10.4" font-weight="bold" text-anchor="middle">5</text>
<line x1="430.4" y1="393.7" x2="430.4" y2="398.3" stroke="#000" stroke-width="1.5" stroke-linecap="butt"/>
<line x1="426.5" y1="393.7" x2="434.3" y2="393.7" stroke="#000" stroke-width="1.5" stroke-linecap="butt"/>
<rect x="423.35" y="398.3" width="14.1" height="43.9" fill="#0000f5" stroke="#000" stroke-width="1.5"/>
<rect x="423.35" y="451.3" width="14.1" height="8.1" fill="#0000f5" stroke="#000" stroke-width="1.5"/>
<line x1="430.4" y1="459.4" x2="430.4" y2="463.2" stroke="#000" stroke-width="1.5" stroke-linecap="butt"/>
<text x="430.4" y="473.4" font-size="10.4" font-weight="bold" text-anchor="middle">2</text>
<line x1="447.8" y1="386.2" x2="447.8" y2="386.7" stroke="#000" stroke-width="1.5" stroke-linecap="butt"/>
<line x1="443.9" y1="386.2" x2="451.7" y2="386.2" stroke="#000" stroke-width="1.5" stroke-linecap="butt"/>
<rect x="440.75" y="386.7" width="14.1" height="55.5" fill="#0000f5" stroke="#000" stroke-width="1.5"/>
<rect x="440.75" y="451.3" width="14.1" height="8.1" fill="#0000f5" stroke="#000" stroke-width="1.5"/>
<line x1="447.8" y1="459.4" x2="447.8" y2="463.2" stroke="#000" stroke-width="1.5" stroke-linecap="butt"/>
<text x="447.8" y="473.4" font-size="10.4" font-weight="bold" text-anchor="middle">3</text>
<line x1="465.2" y1="374.8" x2="465.2" y2="378.1" stroke="#000" stroke-width="1.5" stroke-linecap="butt"/>
<line x1="461.3" y1="374.8" x2="469.1" y2="374.8" stroke="#000" stroke-width="1.5" stroke-linecap="butt"/>
<rect x="458.15" y="378.1" width="14.1" height="64.1" fill="#0000f5" stroke="#000" stroke-width="1.5"/>
<rect x="458.15" y="451.3" width="14.1" height="8.1" fill="#0000f5" stroke="#000" stroke-width="1.5"/>
<line x1="465.2" y1="459.4" x2="465.2" y2="463.2" stroke="#000" stroke-width="1.5" stroke-linecap="butt"/>
<text x="465.2" y="473.4" font-size="10.4" font-weight="bold" text-anchor="middle">4</text>
<line x1="482.6" y1="378.1" x2="482.6" y2="380.8" stroke="#000" stroke-width="1.5" stroke-linecap="butt"/>
<line x1="478.7" y1="378.1" x2="486.5" y2="378.1" stroke="#000" stroke-width="1.5" stroke-linecap="butt"/>
<rect x="475.55" y="380.8" width="14.1" height="61.4" fill="#0000f5" stroke="#000" stroke-width="1.5"/>
<rect x="475.55" y="451.3" width="14.1" height="8.1" fill="#0000f5" stroke="#000" stroke-width="1.5"/>
<line x1="482.6" y1="459.4" x2="482.6" y2="463.2" stroke="#000" stroke-width="1.5" stroke-linecap="butt"/>
<text x="482.6" y="473.4" font-size="10.4" font-weight="bold" text-anchor="middle">5</text>
<text x="426.3" y="490.2" font-size="12" font-weight="normal" text-anchor="middle">Ab dose (mg/mouse)</text>
<text transform="translate(346.5,413) rotate(-90)" font-size="12" text-anchor="middle">reticulocyte MCV (fL)</text>
<text x="329.5" y="339.2" font-size="16.5" font-weight="bold" text-anchor="start" style="stroke-width:0.5px">G</text>
<path d="M376.85 350.4V344.4H483V350.4" fill="none" stroke="#000" stroke-width="1.6"/>
<path d="M464.8 350L464.8 347.9M464.8 350L466.8 349.35M464.8 350L466.03 351.7M464.8 350L463.57 351.7M464.8 350L462.8 349.35" stroke="#000" stroke-width="1.75" stroke-linecap="round" fill="none"/>
<path d="M471 350L471 347.9M471 350L473 349.35M471 350L472.23 351.7M471 350L469.77 351.7M471 350L469 349.35" stroke="#000" stroke-width="1.75" stroke-linecap="round" fill="none"/>
<path d="M477.2 350L477.2 347.9M477.2 350L479.2 349.35M477.2 350L478.43 351.7M477.2 350L475.97 351.7M477.2 350L475.2 349.35" stroke="#000" stroke-width="1.75" stroke-linecap="round" fill="none"/>
<path d="M376.85 360.2V354.2H463.9V360.2" fill="none" stroke="#000" stroke-width="1.6"/>
<path d="M445.7 359.8L445.7 357.7M445.7 359.8L447.7 359.15M445.7 359.8L446.93 361.5M445.7 359.8L444.47 361.5M445.7 359.8L443.7 359.15" stroke="#000" stroke-width="1.75" stroke-linecap="round" fill="none"/>
<path d="M451.9 359.8L451.9 357.7M451.9 359.8L453.9 359.15M451.9 359.8L453.13 361.5M451.9 359.8L450.67 361.5M451.9 359.8L449.9 359.15" stroke="#000" stroke-width="1.75" stroke-linecap="round" fill="none"/>
<path d="M458.1 359.8L458.1 357.7M458.1 359.8L460.1 359.15M458.1 359.8L459.33 361.5M458.1 359.8L456.87 361.5M458.1 359.8L456.1 359.15" stroke="#000" stroke-width="1.75" stroke-linecap="round" fill="none"/>
<path d="M376.85 371V365H447.6V371" fill="none" stroke="#000" stroke-width="1.6"/>
<path d="M429.4 370.6L429.4 368.5M429.4 370.6L431.4 369.95M429.4 370.6L430.63 372.3M429.4 370.6L428.17 372.3M429.4 370.6L427.4 369.95" stroke="#000" stroke-width="1.75" stroke-linecap="round" fill="none"/>
<path d="M435.6 370.6L435.6 368.5M435.6 370.6L437.6 369.95M435.6 370.6L436.83 372.3M435.6 370.6L434.37 372.3M435.6 370.6L433.6 369.95" stroke="#000" stroke-width="1.75" stroke-linecap="round" fill="none"/>
<path d="M441.8 370.6L441.8 368.5M441.8 370.6L443.8 369.95M441.8 370.6L443.03 372.3M441.8 370.6L440.57 372.3M441.8 370.6L439.8 369.95" stroke="#000" stroke-width="1.75" stroke-linecap="round" fill="none"/>
<path d="M376.85 382V376H432.2V382" fill="none" stroke="#000" stroke-width="1.6"/>
<path d="M426.4 381.6L426.4 379.5M426.4 381.6L428.4 380.95M426.4 381.6L427.63 383.3M426.4 381.6L425.17 383.3M426.4 381.6L424.4 380.95" stroke="#000" stroke-width="1.75" stroke-linecap="round" fill="none"/>
</svg>
</body></html>
